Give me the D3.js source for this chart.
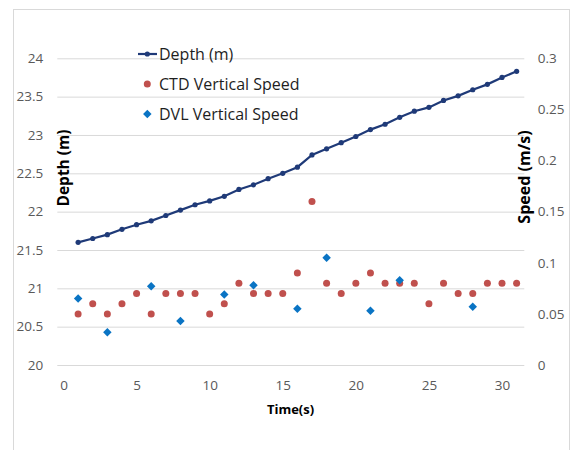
<!DOCTYPE html>
<html lang="en">
<head>
<meta charset="UTF-8">
<title>Depth and vertical speed</title>
<script src="https://d3js.org/d3.v7.min.js"></script>
<style>
  body { margin: 0; background: #fff; }
</style>
</head>
<body>
<svg width="571" height="450"></svg>
<script>
// data
const time = [1,2,3,4,5,6,7,8,9,10,11,12,13,14,15,16,17,18,19,20,21,22,23,24,25,26,27,28,29,30,31];
const depth = [21.60,21.65,21.70,21.77,21.83,21.88,21.95,22.02,22.09,22.14,22.20,22.29,22.35,22.43,22.50,
               22.58,22.74,22.82,22.90,22.98,23.07,23.14,23.23,23.31,23.36,23.45,23.51,23.59,23.66,23.75,23.83];
const ctdSpeed = [0.05,0.06,0.05,0.06,0.07,0.05,0.07,0.07,0.07,0.05,0.06,0.08,0.07,0.07,0.07,
                  0.09,0.16,0.08,0.07,0.08,0.09,0.08,0.08,0.08,0.06,0.08,0.07,0.07,0.08,0.08,0.08];
const dvlTime = [1,3,6,8,11,13,16,18,21,23,28];
const dvlSpeed = [0.065,0.032,0.077,0.043,0.069,0.078,0.055,0.105,0.053,0.083,0.057];
const xTicks = [0,5,10,15,20,25,30];
const depthTicks = [20,20.5,21,21.5,22,22.5,23,23.5,24];
const speedTicks = [0,0.05,0.1,0.15,0.2,0.25,0.3];
const seriesNames = ["Depth (m)","CTD Vertical Speed","DVL Vertical Speed"];

const navy = "#1f3a78", red = "#c0504d", blue = "#0a74c4";
const font = "'Open Sans', sans-serif";

const svg = d3.select("svg");

// chart border
svg.append("rect").attr("x",13.5).attr("y",9.5).attr("width",556).attr("height",460)
   .attr("fill","none").attr("stroke","#d9d9d9");

const x = d3.scaleLinear().domain([0,30]).range([63.5,502]);
const yL = d3.scaleLinear().domain([20,24]).range([365,58.3]);
const yR = d3.scaleLinear().domain([0,0.3]).range([365,58.3]);
const gx0 = 57.3, gx1 = 524.3;

// gridlines
const grid = svg.append("g").attr("transform",`translate(${gx0},0)`)
  .call(d3.axisRight(yL).tickValues(depthTicks).tickSize(gx1-gx0).tickFormat(""));
grid.select(".domain").remove();
grid.selectAll("line").attr("stroke","#d9d9d9").attr("stroke-width",1);

function styleAxis(g) {
  g.select(".domain").remove();
  g.selectAll("text").attr("font-family",font).attr("font-size",13.5).attr("fill","#595959");
}

svg.append("g").attr("transform",`translate(${gx0},0)`)
  .call(d3.axisLeft(yL).tickValues(depthTicks).tickSize(0).tickPadding(14).tickFormat(d => String(d)))
  .call(styleAxis);

svg.append("g").attr("transform",`translate(${gx1},0)`)
  .call(d3.axisRight(yR).tickValues(speedTicks).tickSize(0).tickPadding(13.4).tickFormat(d => String(d)))
  .call(styleAxis);

svg.append("g").attr("transform","translate(0,365)")
  .call(d3.axisBottom(x).tickValues(xTicks).tickSize(0).tickPadding(15.4).tickFormat(d => String(d)))
  .call(styleAxis);

// axis titles
svg.append("text").attr("transform","translate(63,168) rotate(-90)")
  .attr("text-anchor","middle").attr("dominant-baseline","central")
  .attr("font-family",font).attr("font-weight","bold").attr("font-size",15.5)
  .text("Depth (m)");
svg.append("text").attr("transform","translate(523.5,177) rotate(-90)")
  .attr("text-anchor","middle").attr("dominant-baseline","central")
  .attr("font-family",font).attr("font-weight","bold").attr("font-size",16)
  .text("Speed (m/s)");
svg.append("text").attr("x",290.5).attr("y",408.5)
  .attr("text-anchor","middle").attr("dominant-baseline","central")
  .attr("font-family",font).attr("font-weight","bold").attr("font-size",13)
  .text("Time(s)");

// depth line
const depthData = time.map((t,i) => ({t, v: depth[i]}));
svg.append("path").attr("d", d3.line().x(d => x(d.t)).y(d => yL(d.v))(depthData))
  .attr("fill","none").attr("stroke",navy).attr("stroke-width",2.2);
svg.append("g").selectAll("circle").data(depthData).join("circle")
  .attr("cx",d => x(d.t)).attr("cy",d => yL(d.v)).attr("r",2.6).attr("fill",navy);

// CTD speed
svg.append("g").selectAll("circle").data(time.map((t,i) => ({t, v: ctdSpeed[i]}))).join("circle")
  .attr("cx",d => x(d.t)).attr("cy",d => yR(d.v)).attr("r",3.5).attr("fill",red);

// DVL speed
const diamond = d3.symbol().type(d3.symbolDiamond2).size(46);
svg.append("g").selectAll("path").data(dvlTime.map((t,i) => ({t, v: dvlSpeed[i]}))).join("path")
  .attr("d",diamond).attr("transform",d => `translate(${x(d.t)},${yR(d.v)})`).attr("fill",blue);

// legend
const leg = svg.append("g");
const rowY = [54,84,114];
leg.selectAll("text").data(seriesNames).join("text")
  .attr("x",159).attr("y",(d,i) => rowY[i]).attr("dominant-baseline","central")
  .attr("font-family",font).attr("font-size",16).attr("fill","#1e1e1e").text(d => d);
leg.append("line").attr("x1",138).attr("x2",157).attr("y1",rowY[0]).attr("y2",rowY[0])
  .attr("stroke",navy).attr("stroke-width",2.2);
leg.append("circle").attr("cx",147.3).attr("cy",rowY[0]).attr("r",2.6).attr("fill",navy);
leg.append("circle").attr("cx",147.3).attr("cy",rowY[1]).attr("r",3.5).attr("fill",red);
leg.append("path").attr("d",diamond).attr("transform",`translate(147.3,${rowY[2]})`).attr("fill",blue);
</script>
</body>
</html>
